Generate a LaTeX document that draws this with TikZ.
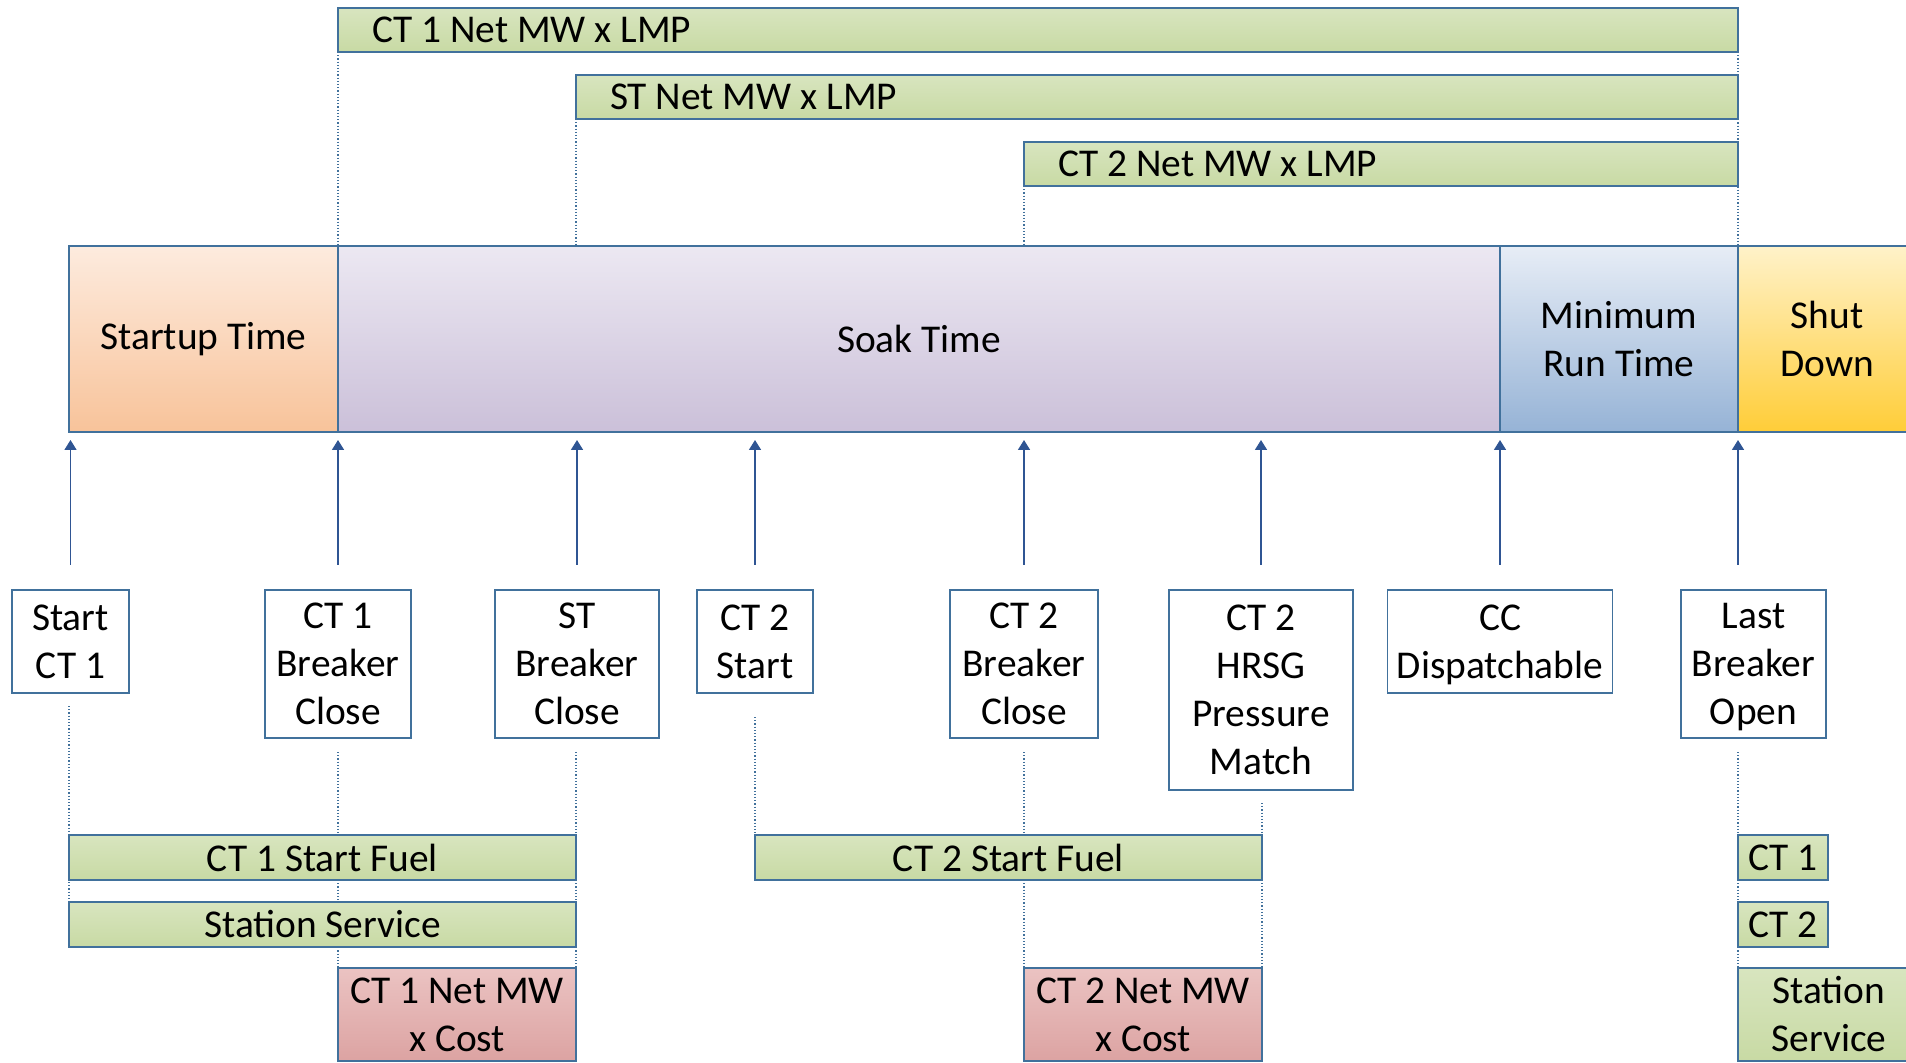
\documentclass[tikz,border=0pt]{standalone}
\usepackage{fontspec}
\setmainfont{Carlito}
\usetikzlibrary{arrows.meta,positioning,calc,backgrounds}
\definecolor{Edge}{HTML}{41719C}
\definecolor{Arrow}{HTML}{2F5593}
\definecolor{GreenTop}{HTML}{D8E5BF}
\definecolor{GreenBot}{HTML}{C8DAA4}
\definecolor{PinkTop}{HTML}{EBC3C2}
\definecolor{PinkBot}{HTML}{DCA3A2}
\definecolor{StartTop}{HTML}{FDEBDE}
\definecolor{StartBot}{HTML}{F8C39A}
\definecolor{SoakTop}{HTML}{ECE8F2}
\definecolor{SoakBot}{HTML}{CBC0D9}
\definecolor{RunTop}{HTML}{E7EDF6}
\definecolor{RunBot}{HTML}{96B3D6}
\definecolor{ShutTop}{HTML}{FFF2C9}
\definecolor{ShutBot}{HTML}{FFCD38}

\begin{document}
\begin{tikzpicture}[x=.5pt,y=-.5pt,
    every node/.style={font=\fontsize{19.7pt}{24pt}\selectfont,inner sep=0pt,outer sep=0pt},
    box/.style={draw=Edge,line width=.8pt},
    greenbar/.style={box,top color=GreenTop,bottom color=GreenBot,anchor=north west,minimum height=22.5pt},
    lmpbar/.style={greenbar,align=flush left,inner xsep=17pt,minimum height=22pt},
    costbar/.style={box,top color=PinkTop,bottom color=PinkBot,anchor=north west,align=center,minimum height=46.5pt},
    phase/.style={box,anchor=north west,align=center,minimum height=93pt},
    event/.style={box,fill=white,anchor=north,align=center},
    up/.style={draw=Arrow,line width=.8pt,-{Triangle[width=6pt,length=5pt]},shorten <=12.5pt,shorten >=4pt},
    guide/.style={draw=Edge,line width=.6pt,densely dotted}]
  \useasboundingbox (0,0) rectangle (1906,1063);
  \clip (0,0) rectangle (1906,1063);
  % revenue bars
  \node[lmpbar,text width=666pt] (ct1lmp) at (338,8) {CT 1 Net MW x LMP};
  \node[lmpbar,text width=547pt] (stlmp) at (576,75) {ST Net MW x LMP};
  \node[lmpbar,text width=323pt] (ct2lmp) at (1024,142) {CT 2 Net MW x LMP};
  % phases
  \node[phase,top color=StartTop,bottom color=StartBot,minimum width=134.5pt] (startup) at (69,246) {Startup Time};
  \node[phase,top color=SoakTop,bottom color=SoakBot,minimum width=581pt] (soak) at (startup.north east) {Soak Time};
  \node[phase,top color=RunTop,bottom color=RunBot,minimum width=119pt] (minrun) at (soak.north east) {Minimum\\Run Time};
  \node[phase,top color=ShutTop,bottom color=ShutBot,minimum width=89pt] (shutdown) at (minrun.north east) {Shut\\Down};
  % events
  \node[event,minimum width=58.5pt,minimum height=51.5pt] (startct1) at (70.5,590) {Start\\CT 1};
  \node[event,minimum width=73pt,minimum height=74pt] (ct1brk) at (338,590) {CT 1\\Breaker\\Close};
  \node[event,minimum width=82pt,minimum height=74pt] (stbrk) at (577,590) {ST\\Breaker\\Close};
  \node[event,minimum width=58pt,minimum height=51.5pt] (ct2start) at (755,590) {CT 2\\Start};
  \node[event,minimum width=74pt,minimum height=74pt] (ct2brk) at (1024,590) {CT 2\\Breaker\\Close};
  \node[event,minimum width=92pt,minimum height=100pt] (hrsg) at (1261,590) {CT 2\\HRSG\\Pressure\\Match};
  \node[event,minimum width=112.5pt,minimum height=51.5pt] (ccdisp) at (1500,590) {CC\\\smash{Dispatchable}};
  \node[event,minimum width=72.5pt,minimum height=74pt] (lastopen) at (1753.5,590) {Last\\Breaker\\\smash{Open}};
  % cost bars
  \node[greenbar,minimum width=253.5pt] (ct1fuel) at (69,835) {CT 1 Start Fuel};
  \node[greenbar,minimum width=253.5pt] (ss1) at (69,902) {Station Service};
  \node[costbar,minimum width=119pt] (ct1cost) at (338,968) {CT 1 Net MW\\x Cost};
  \node[greenbar,minimum width=253.5pt] (ct2fuel) at (755,835) {CT 2 Start Fuel};
  \node[costbar,minimum width=119pt] (ct2cost) at (1024,968) {CT 2 Net MW\\x Cost};
  \node[greenbar,minimum width=45pt] (ct1off) at (1738,835) {CT 1};
  \node[greenbar,minimum width=45pt] (ct2off) at (1738,902) {CT 2};
  \node[greenbar,align=center,minimum width=91pt,minimum height=46.5pt] (ss2) at (1738,968) {Station\\Service};
  % arrows
  \foreach \ev in {startct1,ct1brk,stbrk,ct2start,ct2brk,hrsg,ccdisp}
    \draw[up] (\ev.north) -- (\ev.north |- soak.south);
  \draw[up] (lastopen.north -| shutdown.south west) -- (shutdown.south west);
  % guides
  \begin{scope}[on background layer]
    \draw[guide] (ct1lmp.south west) -- (ct1lmp.south west |- soak.north);
    \draw[guide] (stlmp.south west) -- (stlmp.south west |- soak.north);
    \draw[guide] (ct2lmp.south west) -- (ct2lmp.south west |- soak.north);
    \draw[guide] (ct1lmp.south east) -- (ct1lmp.south east |- soak.north);
    \draw[guide,shorten <=6.5pt] (startct1.south -| ss1.west) -- (ss1.north west);
    \draw[guide,shorten <=7pt] (ct1brk.south -| ct1cost.west) -- (ct1cost.north west);
    \draw[guide,shorten <=7pt] (stbrk.south -| ct1cost.east) -- (ct1cost.north east);
    \draw[guide,shorten <=12pt] (ct2start.south -| ct2fuel.west) -- (ct2fuel.north west);
    \draw[guide,shorten <=7pt] (ct2brk.south -| ct2cost.west) -- (ct2cost.north west);
    \draw[guide,shorten <=6.5pt] (hrsg.south -| ct2cost.east) -- (ct2cost.north east);
    \draw[guide,shorten <=7pt] (lastopen.south -| ss2.west) -- (ss2.north west);
  \end{scope}
\end{tikzpicture}
\end{document}
